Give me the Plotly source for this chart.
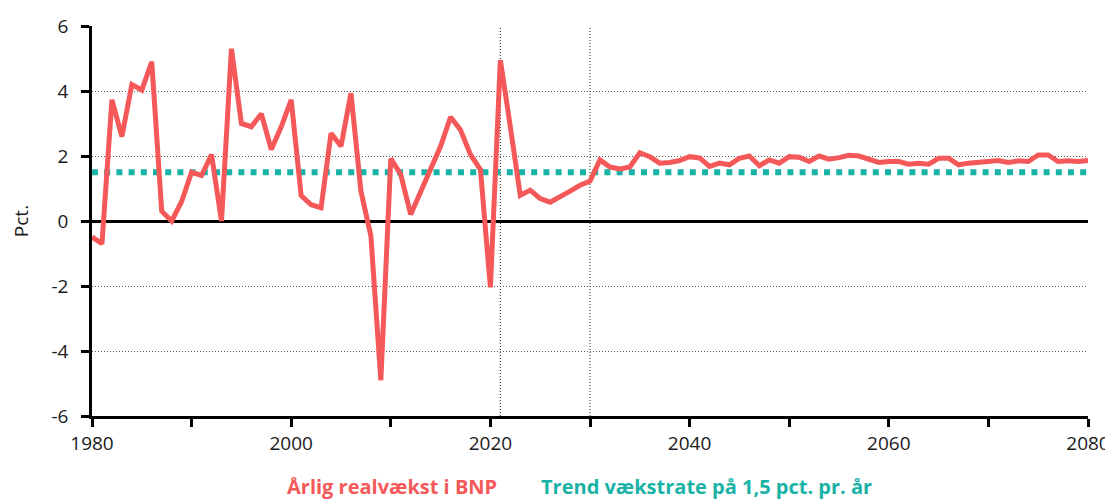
import plotly.graph_objects as go

years = list(range(1980, 2081))
bnp_growth = [
    -0.49, -0.7, 3.73, 2.6, 4.2, 4.03, 4.9, 0.3, 0.0, 0.6,
    1.5, 1.4, 2.04, 0.0, 5.3, 3.0, 2.9, 3.3, 2.2, 2.9,
    3.73, 0.78, 0.5, 0.41, 2.7, 2.3, 3.93, 0.92, -0.46, -4.9,
    1.92, 1.43, 0.2, 0.92, 1.58, 2.3, 3.2, 2.8, 2.04, 1.58,
    -2.04, 4.95, 2.9, 0.79, 0.95, 0.69, 0.58, 0.77, 0.92, 1.1,
    1.23, 1.88, 1.66, 1.6, 1.66, 2.1, 1.98, 1.78, 1.8, 1.86,
    1.98, 1.94, 1.68, 1.78, 1.73, 1.93, 2.0, 1.7, 1.88, 1.78,
    1.98, 1.96, 1.83, 2.0, 1.9, 1.95, 2.02, 2.0, 1.9, 1.8,
    1.83, 1.83, 1.75, 1.78, 1.75, 1.93, 1.93, 1.73, 1.78, 1.8,
    1.83, 1.86, 1.8, 1.85, 1.83, 2.03, 2.03, 1.83, 1.85, 1.83,
    1.86,
]
trend_rate = [1.5] * len(years)
marker_years = [2021, 2030]

x_tickvals = list(range(1980, 2081, 10))
x_ticktext = ["1980", "", "2000", "", "2020", "", "2040", "", "2060", "", "2080"]
y_tickvals = [-6, -4, -2, 0, 2, 4, 6]
y_ticktext = ["-6", "-4", "-2", "0", "2", "4", "6"]

red = "#F55858"
teal = "#18B3A6"
font_family = "Open Sans"
text_color = "#1a1a1a"

fig = go.Figure()
fig.add_trace(
    go.Scatter(
        x=years, y=trend_rate, mode="lines", name="Trend vækstrate på 1,5 pct. pr. år",
        line=dict(color=teal, width=6, dash="6px,6.2px"),
    )
)
fig.add_trace(
    go.Scatter(
        x=years, y=bnp_growth, mode="lines", name="Årlig realvækst i BNP",
        line=dict(color=red, width=5),
    )
)

for yr in marker_years:
    fig.add_shape(
        type="line", xref="x", yref="paper", x0=yr, x1=yr, y0=0, y1=1,
        line=dict(color="#222222", width=1, dash="1px,2px"), layer="below",
    )

# legend drawn as coloured text, as in the original
fig.add_annotation(
    text="<b>Årlig realvækst i BNP</b>", xref="paper", yref="paper",
    x=(392 - 92) / 996, y=0, xanchor="center", yanchor="middle", yshift=-70,
    showarrow=False, font=dict(color=red, size=20, family=font_family),
)
fig.add_annotation(
    text="<b>Trend vækstrate på 1,5 pct. pr. år</b>", xref="paper", yref="paper",
    x=(706 - 92) / 996, y=0, xanchor="center", yanchor="middle", yshift=-70,
    showarrow=False, font=dict(color=teal, size=20, family=font_family),
)

fig.update_xaxes(
    range=[1980, 2080], tickmode="array", tickvals=x_tickvals, ticktext=x_ticktext,
    ticks="outside", ticklen=8, tickwidth=2.5, tickcolor="black",
    showline=True, linecolor="black", linewidth=2.5,
    showgrid=False, zeroline=False, automargin=False,
    tickfont=dict(size=19, color=text_color, family=font_family),
)
fig.update_yaxes(
    range=[-6, 6], tickmode="array", tickvals=y_tickvals, ticktext=y_ticktext,
    ticks="outside", ticklen=8, tickwidth=2.5, tickcolor="black", ticklabelstandoff=9,
    showline=True, linecolor="black", linewidth=2.5,
    showgrid=True, gridcolor="#555555", gridwidth=1, griddash="1px,2px",
    zeroline=True, zerolinecolor="black", zerolinewidth=2.5, automargin=False,
    tickfont=dict(size=19, color=text_color, family=font_family),
    title=dict(text="Pct.", font=dict(size=19, color=text_color, family=font_family), standoff=22),
)
# page body adds an 8px offset, so the figure is a bit smaller than the window
fig.update_layout(
    width=1105, height=492,
    margin=dict(l=84, r=25, t=18, b=84),
    plot_bgcolor="white", paper_bgcolor="white",
    showlegend=False,
    font=dict(family=font_family),
)

fig.write_html("out.html")
